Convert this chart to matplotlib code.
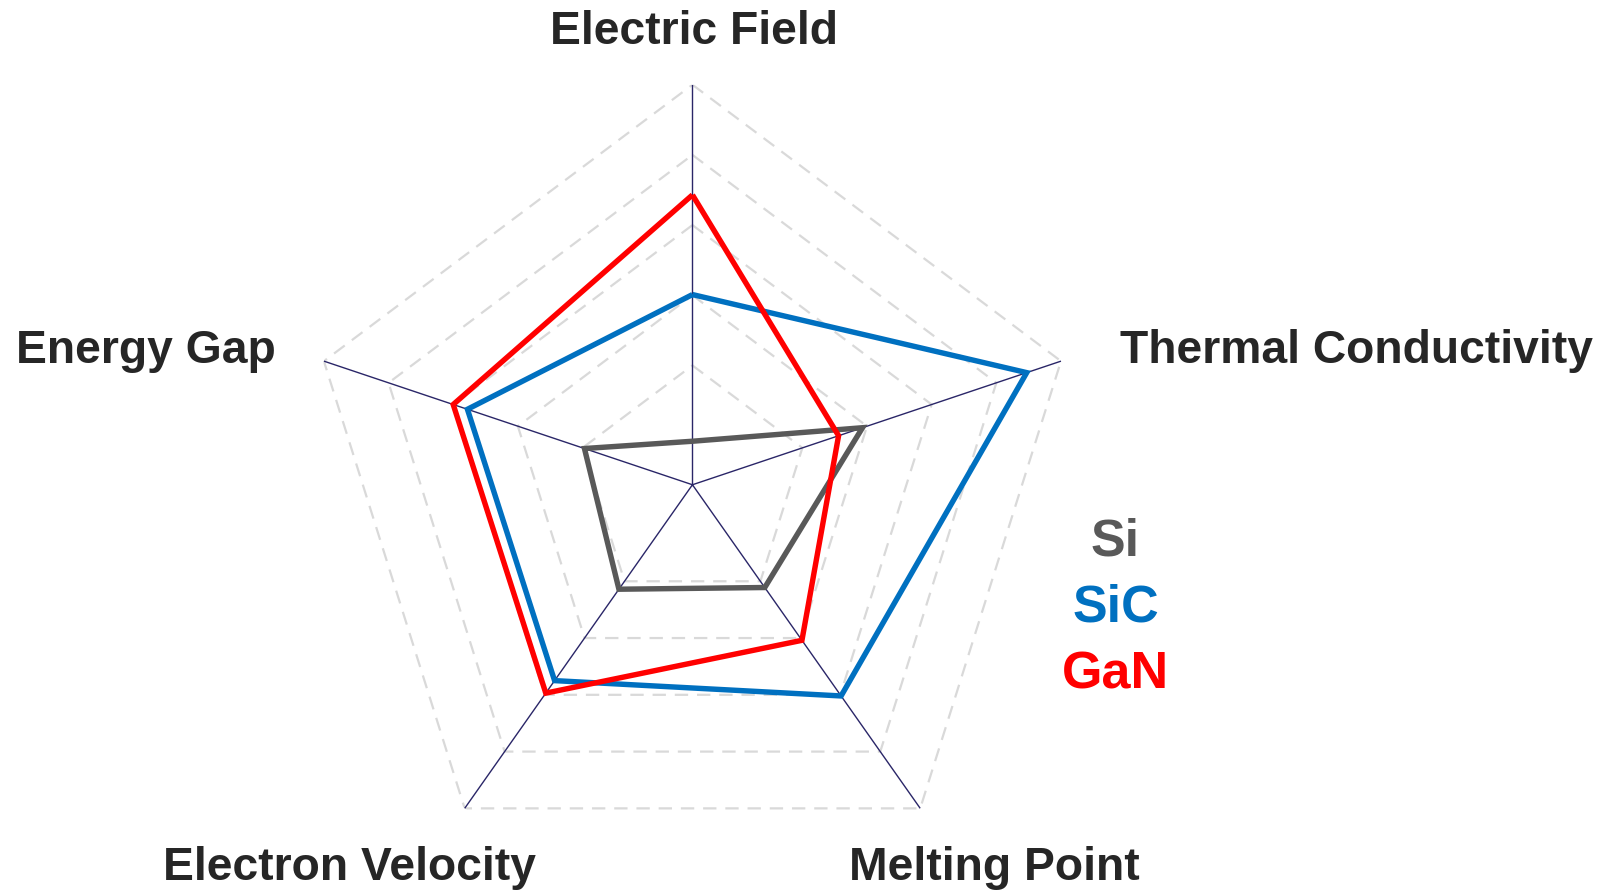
import numpy as np
import matplotlib.pyplot as plt

plt.rcParams['font.family'] = ['Liberation Sans', 'DejaVu Sans']

# axes, clockwise from the top
categories = ["Electric Field", "Thermal Conductivity", "Melting Point",
              "Electron Velocity", "Energy Gap"]
series = ["Si", "SiC", "GaN"]
si = [-0.08, 1.93, 1.11, 1.14, 0.97]
sic = [2.01, 4.47, 3.02, 2.75, 2.78]
gan = [3.43, 1.56, 2.04, 2.97, 3.00]
levels = [1, 2, 3, 4, 5]

colors = {"Si": "#595959", "SiC": "#0070C0", "GaN": "#FF0000"}
values = {"Si": si, "SiC": sic, "GaN": gan}

n = len(categories)
theta = np.arange(n) * 2 * np.pi / n
theta_c = np.append(theta, theta[0])
rmin = -0.7

fig = plt.figure(figsize=(15.99, 8.91), dpi=100)
ax = fig.add_axes([0.1907, 0.0070, 0.4847, 0.8979], projection="polar")
ax.set_aspect("auto")
ax.set_theta_offset(np.pi / 2)
ax.set_theta_direction(-1)
ax.set_ylim(rmin, levels[-1])
ax.grid(False)
ax.spines["polar"].set_visible(False)
ax.set_xticks([])
ax.set_yticks([])
ax.patch.set_alpha(0)

# dashed pentagon grid
for lv in levels:
    ax.plot(theta_c, [lv] * (n + 1), color="#D9D9D9", lw=1.6,
            linestyle=(0, (6, 4)), zorder=1)

# spokes
for t in theta:
    ax.plot([t, t], [rmin, levels[-1]], color="#2A2668", lw=1.0, zorder=2)

for s in series:
    v = values[s]
    ax.plot(theta_c, v + v[:1], color=colors[s], lw=3.9, zorder=3,
            solid_joinstyle="miter", solid_capstyle="butt")

# category labels
lab = dict(fontsize=33.3, fontweight="bold", color="#262626", va="baseline")
fig.text(0.4343, 0.9503, categories[0], ha="center", **lab)
fig.text(0.7003, 0.5923, categories[1], ha="left", **lab)
fig.text(0.6221, 0.0124, categories[2], ha="center", **lab)
fig.text(0.2185, 0.0124, categories[3], ha="center", **lab)
fig.text(0.0100, 0.5923, categories[4], ha="left", **lab)

# legend as coloured words
for s, y in zip(series, [0.3771, 0.3022, 0.2275]):
    fig.text(0.6976, y, s, ha="center", va="baseline", fontsize=37.5,
             fontweight="bold", color=colors[s])

fig.savefig("out.png", dpi=100)
